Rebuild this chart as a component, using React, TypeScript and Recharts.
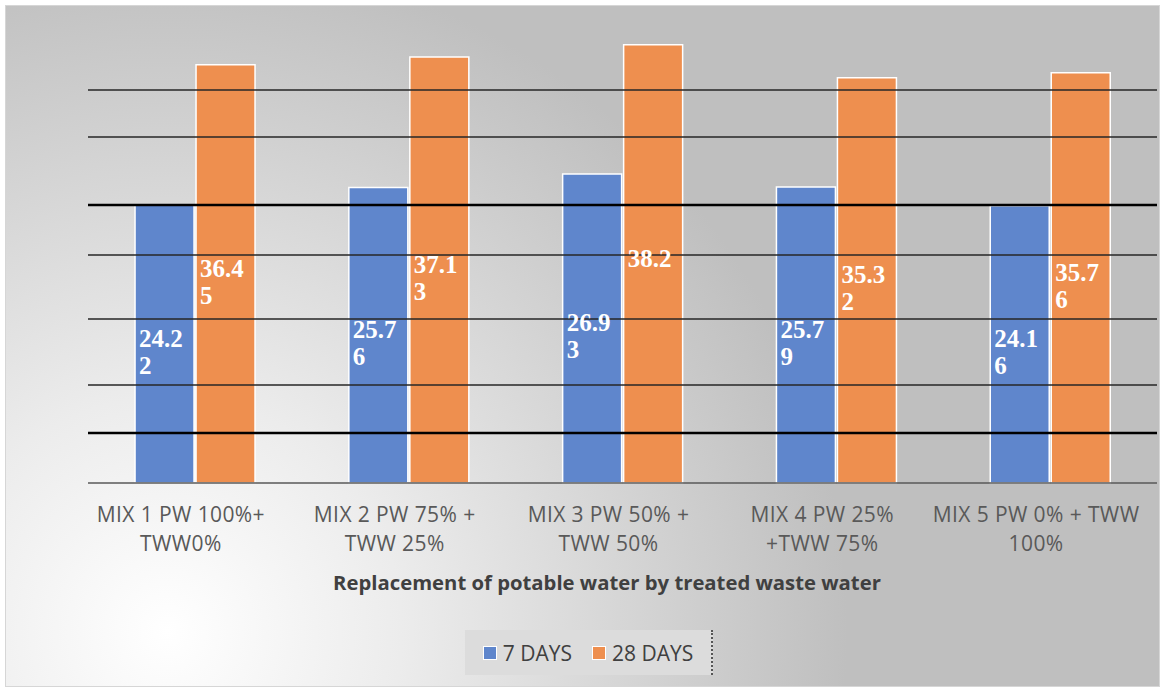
import { Bar, BarChart, LabelList, ReferenceLine, XAxis, YAxis } from "recharts";

const CATEGORIES = [
  "MIX 1 PW 100%+\nTWW0%",
  "MIX 2 PW 75% +\nTWW 25%",
  "MIX 3 PW 50% +\nTWW 50%",
  "MIX 4 PW 25%\n+TWW 75%",
  "MIX 5 PW 0% + TWW\n100%",
];
const DAYS_7 = [24.22, 25.76, 26.93, 25.79, 24.16];
const DAYS_28 = [36.45, 37.13, 38.2, 35.32, 35.76];
const SERIES = [
  { key: "d7", name: "7 DAYS", color: "#5f86cc" },
  { key: "d28", name: "28 DAYS", color: "#ee8f4f" },
];
// horizontal rules as they sit in the source figure (value units)
const GRID_LEVELS = [34.25, 30.15, 24.23, 19.87, 14.29, 8.54, 4.36];
const HEAVY_LEVELS = [24.23, 4.36];
const AXIS_TITLE = "Replacement of potable water by treated waste water";

const data = CATEGORIES.map((name, i) => ({ name, d7: DAYS_7[i], d28: DAYS_28[i] }));

const SANS = "'Open Sans', Lato, sans-serif";

function CategoryTick({ x, y, payload }: any) {
  const lines = String(payload.value).split("\n");
  // labels sit a little left of the bar pair in the source
  const cx = x - 14;
  return (
    <text x={cx} y={y + 31} textAnchor="middle" fill="#595959" fontSize={21} letterSpacing={0.4} fontFamily={SANS}>
      {lines.map((line, i) => (
        <tspan key={i} x={cx} dy={i === 0 ? 0 : 29}>
          {line}
        </tspan>
      ))}
    </text>
  );
}

function ValueLabel({ x, y, width, height, value }: any) {
  const s = String(value);
  const lines = s.length > 4 ? [s.slice(0, 4), s.slice(4)] : [s];
  const base = y + height / 2 + 3;
  return (
    <text
      x={x + 4}
      y={base}
      fill="#ffffff"
      fontSize={25}
      fontWeight="bold"
      fontFamily="'Liberation Serif', 'Times New Roman', serif"
    >
      {lines.map((line, i) => (
        <tspan key={i} x={x + 4} dy={i === 0 ? 0 : 27}>
          {line}
        </tspan>
      ))}
    </text>
  );
}

export default function App() {
  return (
    <div style={{ position: "absolute", left: 0, top: 0, width: 1164, height: 691, background: "#fff" }}>
      <div
        style={{
          position: "absolute",
          left: 5,
          top: 5,
          width: 1155,
          height: 682,
          border: "1px solid #d6d6d6",
          boxSizing: "border-box",
          background: "radial-gradient(circle at 14% 92%, #ffffff 0%, #ececec 20%, #bfbfbf 58%)",
        }}
      />
      <div style={{ position: "absolute", left: 0, top: 0 }}>
        <BarChart
          width={1164}
          height={691}
          data={data}
          margin={{ top: 24, right: 7, left: 88, bottom: 0 }}
          barCategoryGap="22%"
          barGap={2}
        >
          <XAxis
            dataKey="name"
            height={208}
            tickLine={false}
            axisLine={{ stroke: "#595959", strokeWidth: 1.5 }}
            tick={<CategoryTick />}
            interval={0}
          />
          <YAxis hide domain={[0, 40]} />
          {SERIES.map((s) => (
            <Bar key={s.key} dataKey={s.key} name={s.name} fill={s.color} stroke="#ffffff" strokeWidth={1.5} isAnimationActive={false}>
              <LabelList dataKey={s.key} content={<ValueLabel />} />
            </Bar>
          ))}
          {GRID_LEVELS.map((v) => (
            <ReferenceLine
              key={v}
              y={v}
              stroke={HEAVY_LEVELS.includes(v) ? "#000000" : "#262626"}
              strokeWidth={HEAVY_LEVELS.includes(v) ? 2.5 : 1.5}
            />
          ))}
        </BarChart>
      </div>
      <div
        style={{
          position: "absolute",
          left: 0,
          width: 1214,
          top: 568,
          textAlign: "center",
          fontFamily: SANS,
          fontWeight: "bold",
          fontSize: 20.3,
          color: "#404040",
        }}
      >
        {AXIS_TITLE}
      </div>
      <div
        style={{
          position: "absolute",
          left: 465,
          top: 630,
          width: 248,
          height: 45,
          boxSizing: "border-box",
          background: "#dcdcdc",
          borderRight: "2px dotted #555",
          display: "flex",
          alignItems: "center",
          justifyContent: "center",
          gap: 20,
          fontFamily: SANS,
          fontSize: 21,
          color: "#404040",
        }}
      >
        {SERIES.map((s) => (
          <div key={s.key} style={{ display: "flex", alignItems: "center", gap: 6 }}>
            <span style={{ width: 12, height: 12, background: s.color, border: "1px solid #fff", display: "inline-block" }} />
            <span>{s.name}</span>
          </div>
        ))}
      </div>
    </div>
  );
}
